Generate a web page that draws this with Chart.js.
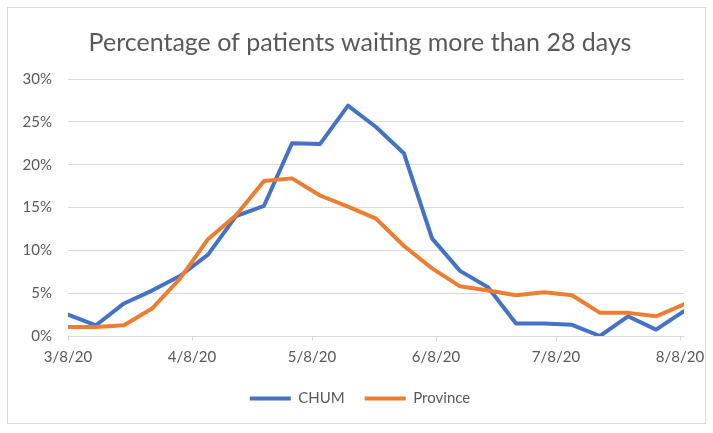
<!DOCTYPE html>
<html lang="en">
<head>
  <meta charset="UTF-8">
  <title>Percentage of patients waiting more than 28 days</title>
  <script src="https://cdn.jsdelivr.net/npm/chart.js"></script>
  <style>
    html, body {
      margin: 0;
      padding: 0;
      background: #fff;
    }
    .frame {
      position: absolute;
      left: 7px;
      top: 7px;
      width: 697px;
      height: 415px;
      border: 1px solid #d9d9d9;
    }
    .wrap {
      position: absolute;
      left: 0;
      top: 0;
      width: 713px;
      height: 433px;
    }
  </style>
</head>
<body>
  <div class="frame"></div>
  <div class="wrap"><canvas id="waitChart"></canvas></div>

  <script>
    // weekly observation dates
    const weeks = ['3/8/20', '3/15/20', '3/22/20', '3/29/20', '4/5/20', '4/12/20', '4/19/20', '4/26/20',
      '5/3/20', '5/10/20', '5/17/20', '5/24/20', '5/31/20', '6/7/20', '6/14/20', '6/21/20',
      '6/28/20', '7/5/20', '7/12/20', '7/19/20', '7/26/20', '8/2/20', '8/9/20'];

    // % of patients waiting > 28 days
    const chum = [2.5, 1.25, 3.8, 5.3, 7.0, 9.5, 14.0, 15.2, 22.5, 22.4, 26.9, 24.4,
      21.3, 11.4, 7.6, 5.7, 1.45, 1.45, 1.3, 0.0, 2.3, 0.75, 2.9];
    const province = [1.05, 1.05, 1.25, 3.2, 6.7, 11.3, 14.1, 18.1, 18.4, 16.4, 15.1, 13.7,
      10.5, 7.9, 5.8, 5.3, 4.75, 5.1, 4.75, 2.7, 2.7, 2.3, 3.7];

    // axis tick labels
    const xTickLabels = ['3/8/20', '4/8/20', '5/8/20', '6/8/20', '7/8/20', '8/8/20'];
    const yTicks = [0, 5, 10, 15, 20, 25, 30];

    const textColor = '#595959';
    const gridColor = '#d9d9d9';

    function dayOf(s) {
      const [m, d, y] = s.split('/').map(Number);
      return Date.UTC(2000 + y, m - 1, d) / 86400000;
    }
    const day0 = dayOf(weeks[0]);
    const xs = weeks.map(w => dayOf(w) - day0);
    const tickDays = xTickLabels.map(t => dayOf(t) - day0);

    const toPoints = vals => vals.map((v, i) => ({ x: xs[i], y: v }));

    // centre title and legend on the frame rather than on the padded box
    const centreOnFrame = {
      id: 'centreOnFrame',
      afterLayout(chart) {
        const shift = 18;
        [chart.titleBlock, chart.legend].forEach(box => {
          if (box) { box.left += shift; box.right += shift; }
        });
      }
    };

    const ctx = document.getElementById('waitChart').getContext('2d');
    new Chart(ctx, {
      type: 'line',
      data: {
        datasets: [{
          label: 'CHUM',
          data: toPoints(chum),
          borderColor: '#4472c4',
          backgroundColor: '#4472c4',
          borderWidth: 4,
          order: 1
        }, {
          label: 'Province',
          data: toPoints(province),
          borderColor: '#ed7d31',
          backgroundColor: '#ed7d31',
          borderWidth: 4,
          order: 0
        }]
      },
      options: {
        responsive: true,
        maintainAspectRatio: false,
        animation: false,
        elements: {
          point: { radius: 0 },
          line: { tension: 0, borderJoinStyle: 'round', borderCapStyle: 'round' }
        },
        layout: {
          padding: { left: 0, right: 29, top: 0, bottom: 17 }
        },
        plugins: {
          title: {
            display: true,
            text: 'Percentage of patients waiting more than 28 days',
            color: textColor,
            font: { family: 'Lato', size: 25, weight: 'normal' },
            padding: { top: 28, bottom: 21 }
          },
          legend: {
            position: 'bottom',
            labels: {
              color: textColor,
              font: { family: 'Lato', size: 15 },
              usePointStyle: true,
              pointStyle: 'line',
              pointStyleWidth: 41,
              padding: 20,
              sort: (a, b) => a.datasetIndex - b.datasetIndex
            }
          },
          tooltip: { enabled: false }
        },
        scales: {
          x: {
            type: 'linear',
            min: 0,
            max: xs[xs.length - 1],
            afterBuildTicks: axis => {
              axis.ticks = tickDays.map(v => ({ value: v }));
            },
            afterFit: axis => { axis.height = 35; },
            ticks: {
              color: textColor,
              font: { family: 'Lato', size: 15 },
              padding: 7,
              maxRotation: 0,
              callback: v => xTickLabels[tickDays.indexOf(v)]
            },
            grid: {
              drawOnChartArea: false,
              drawTicks: true,
              tickLength: 5,
              color: gridColor
            },
            border: { color: gridColor }
          },
          y: {
            min: 0,
            max: 30,
            afterBuildTicks: axis => {
              axis.ticks = yTicks.map(v => ({ value: v }));
            },
            afterFit: axis => { axis.width = 68; },
            ticks: {
              color: textColor,
              font: { family: 'Lato', size: 15 },
              padding: 16,
              callback: v => v + '%'
            },
            grid: {
              color: gridColor,
              drawTicks: false
            },
            border: { display: false }
          }
        }
      },
      plugins: [centreOnFrame]
    });
  </script>
</body>
</html>
